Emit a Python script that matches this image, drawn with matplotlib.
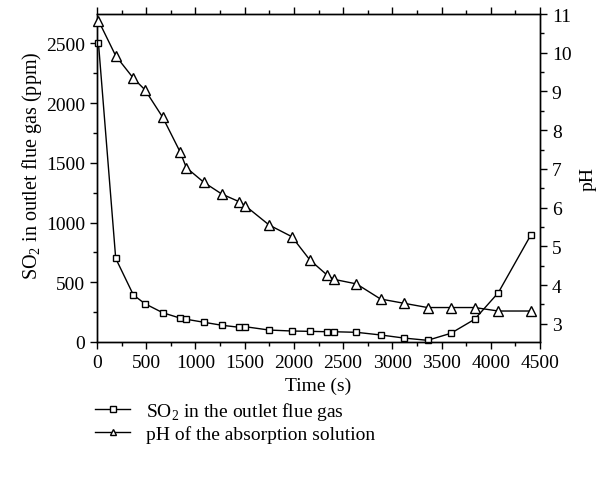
import matplotlib
matplotlib.use("Agg")
import matplotlib.pyplot as plt
from matplotlib.ticker import MultipleLocator
from matplotlib.lines import Line2D

plt.rcParams['font.family'] = ['Liberation Serif', 'DejaVu Serif']
plt.rcParams['mathtext.fontset'] = 'custom'
plt.rcParams['mathtext.rm'] = 'Liberation Serif'

time_s = [15, 190, 370, 488, 668, 844, 908, 1087, 1268, 1447, 1505, 1749, 1979,
          2162, 2341, 2403, 2636, 2880, 3118, 3358, 3595, 3836, 4076, 4408]
so2_ppm = [2500, 700, 393, 320, 245, 200, 190, 165, 140, 123, 128, 100, 92,
           89, 86, 86, 81, 59, 33, 14, 73, 190, 412, 897]
ph_vals = [10.83, 9.92, 9.34, 9.04, 8.33, 7.44, 7.03, 6.65, 6.35, 6.15, 6.05, 5.55, 5.25,
           4.65, 4.25, 4.15, 4.03, 3.64, 3.53, 3.42, 3.42, 3.42, 3.33, 3.33]

x_ticks = [0, 500, 1000, 1500, 2000, 2500, 3000, 3500, 4000, 4500]
left_ticks = [0, 500, 1000, 1500, 2000, 2500]
right_ticks = [3, 4, 5, 6, 7, 8, 9, 10, 11]

legend_labels = [r'SO$_2$ in the outlet flue gas', 'pH of the absorption solution']

fig = plt.figure(figsize=(6.04, 4.81), dpi=100)
ax = fig.add_axes([97/604, 1-343/481, (540-97)/604, (343-15)/481])
ax2 = ax.twinx()

ax.plot(time_s, so2_ppm, color='black', lw=1.0, marker='s', ms=5,
        mfc='white', mec='black', mew=1.0, clip_on=False, zorder=3)
ax2.plot(time_s, ph_vals, color='black', lw=1.0, marker='^', ms=6.5,
         mfc='white', mec='black', mew=1.0, clip_on=False, zorder=3)

ax.set_xlim(0, 4500)
ax.set_ylim(0, 2745)
ax2.set_ylim(2.53, 11)

ax.set_xticks(x_ticks)
ax.set_yticks(left_ticks)
ax2.set_yticks(right_ticks)
ax.xaxis.set_minor_locator(MultipleLocator(250))
ax.yaxis.set_minor_locator(MultipleLocator(250))
ax2.yaxis.set_minor_locator(MultipleLocator(0.5))

fs = 14
ax.tick_params(axis='both', which='major', labelsize=fs, direction='out', length=5, width=1)
ax.tick_params(axis='both', which='minor', direction='out', length=3, width=1)
ax.tick_params(axis='x', which='both', top=True)
ax2.tick_params(axis='y', which='major', labelsize=fs, direction='out', length=5, width=1)
ax2.tick_params(axis='y', which='minor', direction='out', length=3, width=1)
for a in (ax, ax2):
    for s in a.spines.values():
        s.set_linewidth(1.0)

ax.set_xlabel('Time (s)', fontsize=fs, labelpad=4)
ax.set_ylabel(r'SO$_2$ in outlet flue gas (ppm)', fontsize=14.5)
ax.yaxis.set_label_coords(-0.12, 0.54)
ax2.set_ylabel('pH', fontsize=fs, labelpad=6)

handles = [Line2D([], [], color='black', lw=1.0, marker='s', ms=4, mfc='white', mec='black'),
           Line2D([], [], color='black', lw=1.0, marker='^', ms=5, mfc='white', mec='black')]
fig.legend(handles, legend_labels, loc='upper left', bbox_to_anchor=(0.145, 0.182),
           frameon=False, fontsize=fs, handlelength=1.8, handletextpad=0.8,
           labelspacing=0.15, borderaxespad=0)

fig.savefig('out.png', dpi=100)
